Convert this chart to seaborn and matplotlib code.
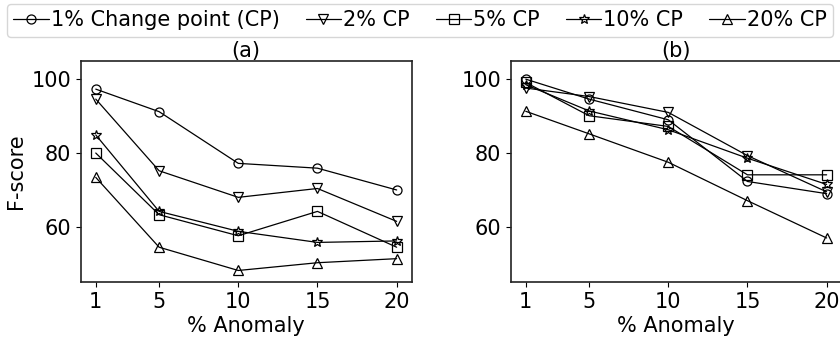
import matplotlib
matplotlib.use("Agg")
import matplotlib.pyplot as plt
import seaborn as sns
import pandas as pd

sns.set_style("ticks")
plt.rcParams["font.family"] = ["DejaVu Sans"]
plt.rcParams["text.color"] = "black"
plt.rcParams["axes.labelcolor"] = "black"
plt.rcParams["xtick.color"] = "black"
plt.rcParams["ytick.color"] = "black"

anomaly = [1, 5, 10, 15, 20]
labels = ["1% Change point (CP)", "2% CP", "5% CP", "10% CP", "20% CP"]
markers = ["o", "v", "s", "*", "^"]

# Panel (a)
a_cp1 = [97.3, 91.2, 77.2, 75.9, 70.0]
a_cp2 = [94.6, 75.2, 68.0, 70.4, 61.5]
a_cp5 = [80.0, 63.3, 57.6, 64.2, 54.5]
a_cp10 = [84.9, 64.2, 58.8, 55.8, 56.2]
a_cp20 = [73.4, 54.5, 48.2, 50.3, 51.4]

# Panel (b)
b_cp1 = [100.0, 94.6, 89.0, 72.3, 69.0]
b_cp2 = [97.6, 95.3, 91.0, 79.3, 69.5]
b_cp5 = [99.1, 90.1, 87.2, 74.1, 74.1]
b_cp10 = [98.5, 91.4, 86.3, 78.6, 71.5]
b_cp20 = [91.3, 85.2, 77.5, 67.1, 57.0]

panels = {
    "(a)": [a_cp1, a_cp2, a_cp5, a_cp10, a_cp20],
    "(b)": [b_cp1, b_cp2, b_cp5, b_cp10, b_cp20],
}

fig = plt.figure(figsize=(8.4, 3.4), dpi=100)
ax_a = fig.add_axes([0.0961, 0.1697, 0.394, 0.6518])
ax_b = fig.add_axes([0.608, 0.1697, 0.394, 0.6518])

fs = 15
for ax, (title, series) in zip([ax_a, ax_b], panels.items()):
    for vals, lab, mk in zip(series, labels, markers):
        df = pd.DataFrame({"x": anomaly, "y": vals})
        ms = 7.5 if mk == "*" else 6.5
        sns.lineplot(data=df, x="x", y="y", ax=ax, color="black", lw=0.9,
                     marker=mk, markersize=ms, markerfacecolor="none",
                     markeredgecolor="black", markeredgewidth=0.9, label=lab,
                     legend=False)
    ax.set_ylim(45, 105)
    ax.set_xticks(anomaly)
    ax.set_yticks([60, 80, 100])
    ax.tick_params(labelsize=fs, length=3.5, width=0.8)
    ax.set_xlabel("% Anomaly", fontsize=fs, labelpad=3)
    ax.set_title(title, fontsize=fs, pad=1)
    for s in ax.spines.values():
        s.set_linewidth(1.2)
        s.set_color("#222222")

ax_a.set_ylabel("F-score", fontsize=fs)
ax_b.set_ylabel("")

handles, hl = ax_a.get_legend_handles_labels()
fig.legend(handles, hl, loc="upper center", bbox_to_anchor=(0.5, 1.0),
           ncol=5, fontsize=fs, frameon=True, handlelength=1.7,
           handletextpad=0.1, columnspacing=1.25, borderaxespad=0.2,
           borderpad=0.3)

fig.savefig("out.png", dpi=100)
